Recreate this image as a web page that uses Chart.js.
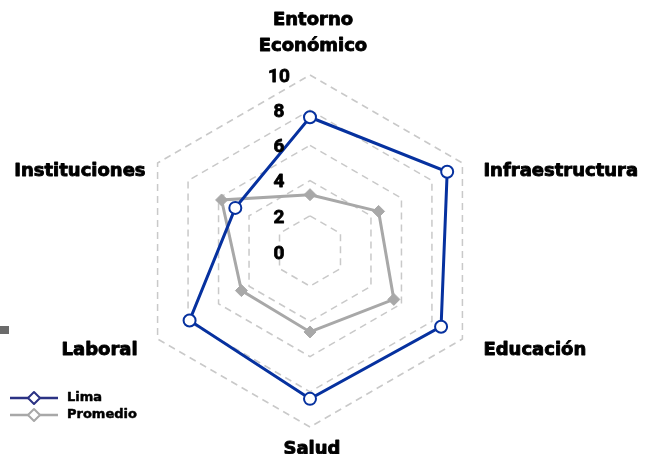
<!DOCTYPE html>
<html>
<head>
<meta charset="utf-8">
<script src="https://cdn.jsdelivr.net/npm/chart.js@4"></script>
<style>
  body { margin: 0; background: #fff; }
  #wrap { position: relative; width: 645px; height: 454px; }
  #marca { position: absolute; left: 0; top: 326px; width: 9px; height: 8px; background: #6b6b6b; }
</style>
</head>
<body>
<div id="wrap">
  <canvas id="chart" width="645" height="454"></canvas>
  <div id="marca"></div>
</div>
<script>
const ejes = [['Entorno', 'Económico'], 'Infraestructura', 'Educación', 'Salud', 'Laboral', 'Instituciones'];
const valoresLima = [7.6, 9.0, 8.6, 8.4, 7.9, 4.9];
const valoresPromedio = [3.2, 4.5, 5.5, 4.6, 4.5, 5.8];
const etiquetasEscala = [0, 2, 4, 6, 8, 10];

const AZUL = '#06319f';
const GRIS = '#a8a8a8';
const FUENTE_EJES = '"DejaVu Sans", sans-serif';
const FUENTE_ESCALA = 'Roboto, "Liberation Sans", sans-serif';

// desplazamiento de las etiquetas de cada eje (respecto al vértice exterior)
const ajusteEtiquetas = [
    { dx: 3, dy: -19, align: 'center' },
    { dx: 21, dy: 8, align: 'left' },
    { dx: 21, dy: 11, align: 'left' },
    { dx: 2, dy: 22, align: 'center' },
    { dx: -20, dy: 11, align: 'right' },
    { dx: -12, dy: 8, align: 'right' }
];

// texto "negrita extra": relleno + trazo fino
function textoGrueso(ctx, t, x, y, grosor) {
    ctx.fillText(t, x, y);
    ctx.lineWidth = grosor;
    ctx.strokeStyle = '#000';
    ctx.strokeText(t, x, y);
}

const textosPlugin = {
    id: 'textos',
    afterDatasetsDraw(chart) {
        const ctx = chart.ctx;
        const r = chart.scales.r;
        ctx.save();
        ctx.fillStyle = '#000';
        ctx.textBaseline = 'middle';
        ctx.lineJoin = 'round';

        // etiquetas de la escala (a la izquierda del eje vertical)
        ctx.font = 'bold 19px ' + FUENTE_ESCALA;
        ctx.textAlign = 'center';
        etiquetasEscala.forEach(v => {
            const y = r.yCenter - r.getDistanceFromCenterForValue(v);
            textoGrueso(ctx, String(v), r.xCenter - 31, v === 0 ? y + 3 : y + 2, 0.8);
        });

        // etiquetas de los ejes
        ctx.font = 'bold 18px ' + FUENTE_EJES;
        ejes.forEach((eje, i) => {
            const p = r.getPointPosition(i, r.drawingArea);
            const a = ajusteEtiquetas[i];
            ctx.textAlign = a.align;
            if (Array.isArray(eje)) {
                const lineas = eje.length;
                eje.forEach((t, k) => {
                    textoGrueso(ctx, t, p.x + a.dx, p.y + a.dy - (lineas - 1 - k) * 26 - 10, 0.9);
                });
            } else {
                textoGrueso(ctx, eje, p.x + a.dx, p.y + a.dy, 0.9);
            }
        });

        // leyenda
        const items = [
            { texto: 'Lima', color: '#2b3284', y: 398 },
            { texto: 'Promedio', color: GRIS, y: 415 }
        ];
        items.forEach(it => {
            ctx.strokeStyle = it.color;
            ctx.lineWidth = 2.5;
            ctx.beginPath();
            ctx.moveTo(10, it.y);
            ctx.lineTo(58, it.y);
            ctx.stroke();
            ctx.beginPath();
            ctx.moveTo(34, it.y - 6);
            ctx.lineTo(40, it.y);
            ctx.lineTo(34, it.y + 6);
            ctx.lineTo(28, it.y);
            ctx.closePath();
            ctx.fillStyle = '#fff';
            ctx.fill();
            ctx.lineWidth = 2;
            ctx.stroke();
            ctx.fillStyle = '#000';
            ctx.textAlign = 'left';
            ctx.font = 'bold 13px ' + FUENTE_EJES;
            textoGrueso(ctx, it.texto, 67, it.y, 0.5);
        });
        ctx.restore();
    }
};

new Chart(document.getElementById('chart'), {
    type: 'radar',
    data: {
        labels: ejes,
        datasets: [
            {
                label: 'Lima',
                data: valoresLima,
                borderColor: AZUL,
                borderWidth: 3,
                backgroundColor: 'transparent',
                fill: false,
                pointStyle: 'circle',
                pointRadius: 6,
                pointBorderWidth: 2,
                pointBackgroundColor: '#fff',
                pointBorderColor: AZUL
            },
            {
                label: 'Promedio',
                data: valoresPromedio,
                borderColor: GRIS,
                borderWidth: 3,
                backgroundColor: 'transparent',
                fill: false,
                pointStyle: 'rectRot',
                pointRadius: 6,
                pointBorderWidth: 1,
                pointBackgroundColor: GRIS,
                pointBorderColor: GRIS
            }
        ]
    },
    options: {
        responsive: false,
        animation: false,
        layout: { padding: { left: 100, right: 125, top: 75, bottom: 27 } },
        plugins: {
            legend: { display: false },
            tooltip: { enabled: false }
        },
        scales: {
            r: {
                min: 0,
                max: 10,
                ticks: { stepSize: 2, display: false },
                pointLabels: { display: false },
                angleLines: { display: false },
                grid: { color: '#c9c9c9', lineWidth: 1.5 },
                border: { dash: [7, 5] }
            }
        }
    },
    plugins: [textosPlugin]
});
</script>
</body>
</html>
